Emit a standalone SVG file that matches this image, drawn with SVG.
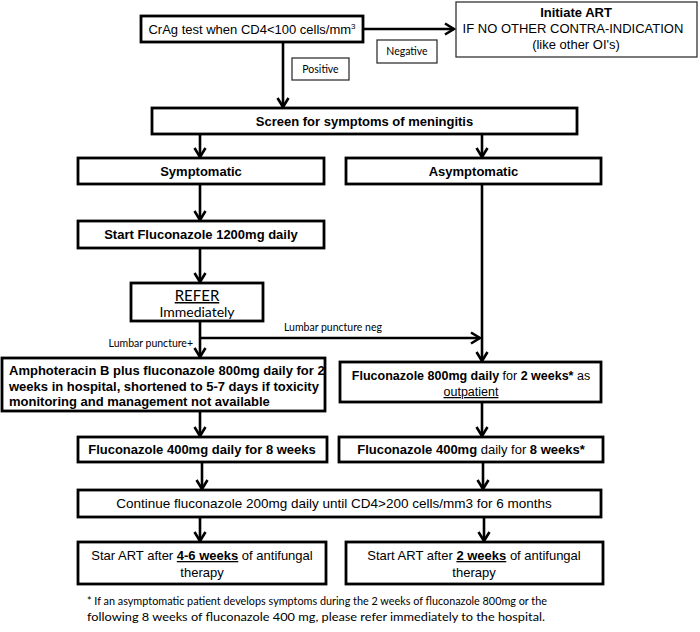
<svg xmlns="http://www.w3.org/2000/svg" width="700" height="632" viewBox="0 0 700 632">
<defs>
<marker id="ah" markerUnits="userSpaceOnUse" markerWidth="12" markerHeight="14" viewBox="0 0 12 14" refX="10.5" refY="7" orient="auto">
<path d="M1.5,1.5 L10.5,7 L1.5,12.5" fill="none" stroke="#000" stroke-width="2.6"/>
</marker>
<style>
.b{fill:#fff;stroke:#000;stroke-width:2.8}
.t{fill:#fff;stroke:#333;stroke-width:1.3}
.a{font-family:"Liberation Sans",Arial,sans-serif;font-size:13px;fill:#000}
.bd{font-weight:bold}
.c{font-family:Lato,"Open Sans",sans-serif;font-size:10.5px;fill:#000}
.m{text-anchor:middle}
.l{fill:none;stroke:#000;stroke-width:2.6}
</style>
</defs>
<g id="connectors">
<line class="l" x1="363" y1="29" x2="454" y2="29" marker-end="url(#ah)"/>
<line class="l" x1="283" y1="42" x2="283" y2="107" marker-end="url(#ah)"/>
<line class="l" x1="200" y1="134" x2="200" y2="157" marker-end="url(#ah)"/>
<line class="l" x1="482" y1="134" x2="482" y2="157" marker-end="url(#ah)"/>
<line class="l" x1="200" y1="184" x2="200" y2="220" marker-end="url(#ah)"/>
<line class="l" x1="200" y1="248" x2="200" y2="282" marker-end="url(#ah)"/>
<line class="l" x1="200" y1="321" x2="200" y2="357" marker-end="url(#ah)"/>
<line class="l" x1="200" y1="338" x2="480" y2="338" marker-end="url(#ah)"/>
<line class="l" x1="482" y1="184" x2="482" y2="361" marker-end="url(#ah)"/>
<line class="l" x1="200" y1="411" x2="200" y2="436" marker-end="url(#ah)"/>
<line class="l" x1="482" y1="402" x2="482" y2="436" marker-end="url(#ah)"/>
<line class="l" x1="202" y1="462" x2="202" y2="489" marker-end="url(#ah)"/>
<line class="l" x1="483" y1="462" x2="483" y2="489" marker-end="url(#ah)"/>
<line class="l" x1="200" y1="517" x2="200" y2="541" marker-end="url(#ah)"/>
<line class="l" x1="484" y1="517" x2="484" y2="541" marker-end="url(#ah)"/>
<text class="c" x="284" y="331">Lumbar puncture neg</text>
<text class="c" x="193" y="347" text-anchor="end">Lumbar puncture+</text>
</g>
<g id="crag">
<rect class="b" x="141" y="16" width="222" height="26"/>
<text class="a m" x="252" y="34">CrAg test when CD4&lt;100  cells/mm<tspan style="font-size:8px" dy="-5">3</tspan></text>
</g>
<g id="initiate">
<rect class="t" x="456" y="2" width="241" height="55"/>
<text class="a m bd" x="576" y="17">Initiate ART</text>
<text class="a m" x="573" y="33">IF NO OTHER  CONTRA-INDICATION</text>
<text class="a m" x="576" y="49">(like other OI's)</text>
</g>
<g id="negative">
<rect class="t" x="377" y="40" width="60" height="23"/>
<text class="c m" x="407" y="55">Negative</text>
</g>
<g id="positive">
<rect class="t" x="292" y="58" width="57" height="22"/>
<text class="c m" x="320.5" y="73">Positive</text>
</g>
<g id="screen">
<rect class="b" x="152" y="108" width="425" height="26"/>
<text class="a m bd" x="364.5" y="126">Screen for symptoms  of meningitis</text>
</g>
<g id="symptomatic">
<rect class="b" x="78" y="158" width="246" height="26"/>
<text class="a m bd" x="201" y="176">Symptomatic</text>
</g>
<g id="asymptomatic">
<rect class="b" x="346" y="158" width="255" height="26"/>
<text class="a m bd" x="473.5" y="176">Asymptomatic</text>
</g>
<g id="start1200">
<rect class="b" x="78" y="221" width="246" height="27"/>
<text class="a m bd" x="201" y="239">Start Fluconazole 1200mg daily</text>
</g>
<g id="refer">
<rect class="b" x="131" y="283" width="132" height="38"/>
<text class="c m" x="197" y="301" style="font-size:15px" text-decoration="underline">REFER</text>
<text class="c m" x="197" y="317" style="font-size:14px">Immediately</text>
</g>
<g id="amphotericin">
<rect class="b" x="2" y="358" width="323" height="53"/>
<text class="a bd" x="9" y="375">Amphoteracin B plus fluconazole 800mg daily for 2</text>
<text class="a bd" x="9" y="391">weeks in hospital, shortened to 5-7 days if toxicity</text>
<text class="a bd" x="9" y="406">monitoring and management not available</text>
</g>
<g id="fluc800">
<rect class="b" x="340" y="362" width="261" height="40"/>
<text class="a m" x="471" y="380" style="font-size:12.5px"><tspan class="bd">Fluconazole 800mg daily</tspan> for <tspan class="bd">2 weeks*</tspan> as</text>
<text class="a m" x="471" y="396" style="font-size:12.5px" text-decoration="underline">outpatient</text>
</g>
<g id="fluc400left">
<rect class="b" x="78" y="437" width="249" height="25"/>
<text class="a m bd" x="202" y="454">Fluconazole 400mg daily for 8 weeks</text>
</g>
<g id="fluc400right">
<rect class="b" x="339" y="437" width="264" height="25"/>
<text class="a m" x="471" y="454"><tspan class="bd">Fluconazole 400mg</tspan> daily for <tspan class="bd">8 weeks*</tspan></text>
</g>
<g id="continue">
<rect class="b" x="78" y="490" width="523" height="27"/>
<text class="a m" x="334" y="508" style="font-size:13.5px">Continue fluconazole 200mg daily until CD4&gt;200 cells/mm3 for 6 months</text>
</g>
<g id="artleft">
<rect class="b" x="78" y="542" width="248" height="42"/>
<text class="a m" x="202" y="560">Star ART after <tspan class="bd" text-decoration="underline">4-6 weeks</tspan> of antifungal</text>
<text class="a m" x="202" y="577">therapy</text>
</g>
<g id="artright">
<rect class="b" x="346" y="542" width="257" height="42"/>
<text class="a m" x="474" y="560">Start ART after <tspan class="bd" text-decoration="underline">2 weeks</tspan> of antifungal</text>
<text class="a m" x="474" y="577">therapy</text>
</g>
<g id="footnote">
<text class="c" x="87" y="605" textLength="460" lengthAdjust="spacingAndGlyphs">*  If an asymptomatic patient develops symptoms during the 2 weeks of fluconazole 800mg or the</text>
<text class="c" x="87" y="621" textLength="458" lengthAdjust="spacingAndGlyphs">following 8 weeks of fluconazole 400 mg, please refer immediately to the hospital.</text>
</g>
</svg>
